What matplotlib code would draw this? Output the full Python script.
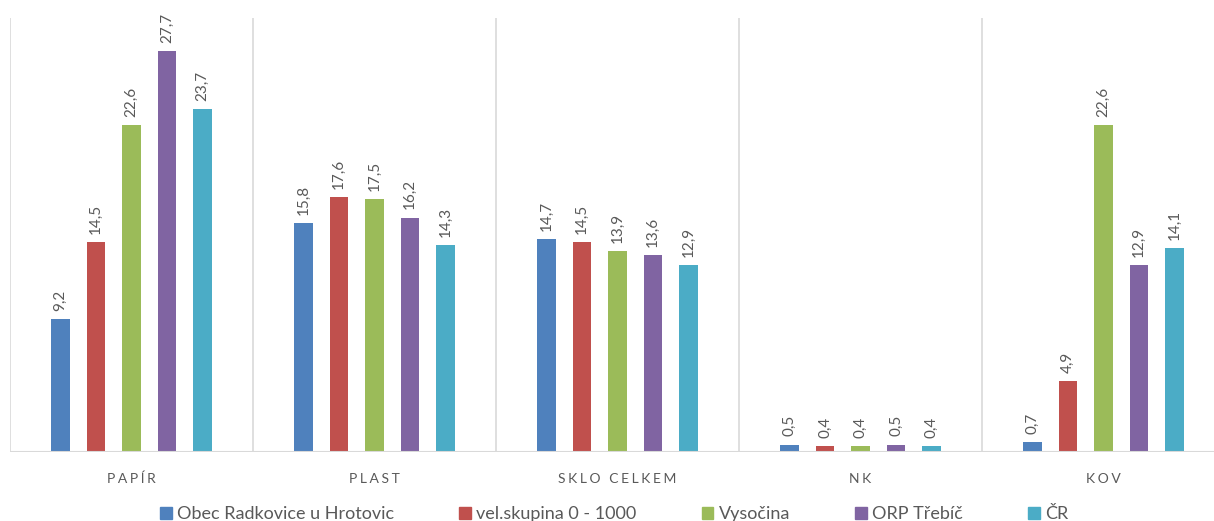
import numpy as np
import matplotlib.pyplot as plt
from matplotlib.patches import Patch

categories = ['PAPÍR', 'PLAST', 'SKLO CELKEM', 'NK', 'KOV']
series = ['Obec Radkovice u Hrotovic', 'vel.skupina 0 - 1000', 'Vysočina', 'ORP Třebíč', 'ČR']
values = [
    [9.2, 15.8, 14.7, 0.5, 0.7],
    [14.5, 17.6, 14.5, 0.4, 4.9],
    [22.6, 17.5, 13.9, 0.4, 22.6],
    [27.7, 16.2, 13.6, 0.5, 12.9],
    [23.7, 14.3, 12.9, 0.4, 14.1],
]
colors = ['#4F81BD', '#C0504D', '#9BBB59', '#8064A2', '#4BACC6']

plt.rcParams.update({
    'font.family': ['Lato', 'DejaVu Sans'],
})

grey = '#595959'
fig = plt.figure(figsize=(12.14, 5.21), dpi=100)
ax = fig.add_axes([10 / 1214, 69 / 521, 1215 / 1214, 434 / 521])

x = np.arange(len(categories))
width = 0.078
step = 0.146
for i, (name, vals) in enumerate(zip(series, values)):
    pos = x + (i - 2) * step
    bars = ax.bar(pos, vals, width, color=colors[i], label=name, zorder=3)
    for xp, v in zip(pos, vals):
        ax.annotate(f'{v:.1f}'.replace('.', ','), (xp, v), xytext=(0, 6),
                    textcoords='offset points', ha='center', va='bottom',
                    rotation=90, fontsize=11, color=grey)

ax.set_xlim(-0.5, len(categories) - 0.5)
ax.set_ylim(0, 30)
for b in np.arange(-0.5, len(categories), 1.0):
    ax.axvline(b, color='#d9d9d9', lw=1.2, zorder=1)
ax.axhline(0, color='#d9d9d9', lw=1.5, zorder=4)

for s in ax.spines.values():
    s.set_visible(False)
ax.set_yticks([])
ax.set_xticks(x)
ax.set_xticklabels(['\u2009\u200a'.join(c) for c in categories], fontsize=10, color=grey)
ax.tick_params(axis='x', length=0, pad=15)

handles = [Patch(color=c) for c in colors]
fig.legend(handles, series, loc='lower center', bbox_to_anchor=(0.506, -0.033), ncol=5,
           frameon=False, fontsize=13, handlelength=0.65, handleheight=0.65,
           handletextpad=0.3, columnspacing=3.6, labelcolor=grey)

fig.savefig('out.png', dpi=100)
